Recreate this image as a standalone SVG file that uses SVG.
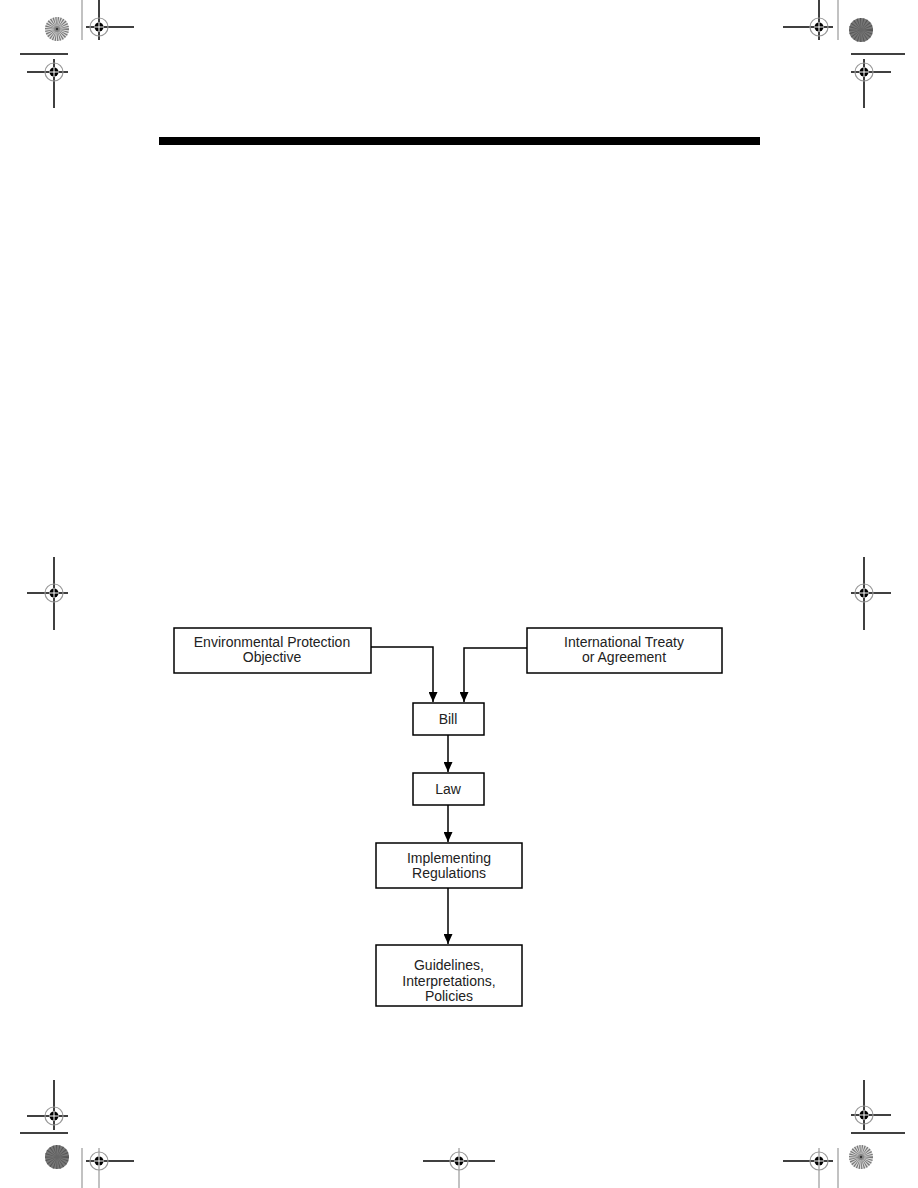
<svg xmlns="http://www.w3.org/2000/svg" width="918" height="1188" viewBox="0 0 918 1188">
<style>
.box{fill:#fff;stroke:#000;stroke-width:1.5}
.t{font-family:"Liberation Sans",Arial,sans-serif;font-size:14px;fill:#222;text-anchor:middle}
.con{fill:none;stroke:#000;stroke-width:1.5}
.k{stroke:#000;stroke-width:1.5}
.g{stroke:#999;stroke-width:1.2}
</style>
<defs>
<marker id="ah" viewBox="0 0 10 10" refX="10" refY="5" markerWidth="10" markerHeight="9" markerUnits="userSpaceOnUse" orient="auto" preserveAspectRatio="none">
<path d="M0,0 L10,5 L0,10 z" fill="#000"/>
</marker>
<g id="reg">
<circle r="9" fill="none" stroke="#999" stroke-width="1.2"/>
<circle r="4.5" fill="#000"/>
<line x1="-5" y1="0" x2="5" y2="0" stroke="#fff" stroke-width="1"/>
<line x1="0" y1="-5" x2="0" y2="5" stroke="#fff" stroke-width="1"/>
</g>
<g id="starL">
<circle r="12" fill="#ddd"/>
<circle r="6" fill="none" stroke="#777" stroke-width="12" stroke-dasharray="0.7 0.7"/>
<circle r="3" fill="#888"/>
<circle r="1.2" fill="#333"/>
</g>
<g id="starD">
<circle r="12" fill="#777"/>
<circle r="6" fill="none" stroke="#555" stroke-width="12" stroke-dasharray="0.6 1.2"/>
<circle r="2" fill="#666"/>
</g>
</defs>

<!-- printer marks -->
<g id="marks">
<!-- top left -->
<use href="#starL" x="57" y="29"/>
<line class="g" x1="82" y1="0" x2="82" y2="40"/>
<line class="k" x1="99" y1="0" x2="99" y2="40"/>
<line class="k" x1="86" y1="27" x2="134" y2="27"/>
<use href="#reg" x="99" y="27"/>
<line class="k" x1="20" y1="54" x2="68" y2="54"/>
<line class="k" x1="54" y1="59" x2="54" y2="108"/>
<line class="k" x1="27" y1="72" x2="68" y2="72"/>
<use href="#reg" x="54" y="72"/>
<!-- top right -->
<use href="#starD" x="861" y="30"/>
<line class="g" x1="838" y1="0" x2="838" y2="40"/>
<line class="k" x1="819" y1="0" x2="819" y2="40"/>
<line class="k" x1="783" y1="27" x2="833" y2="27"/>
<use href="#reg" x="819" y="27"/>
<line class="k" x1="851" y1="54" x2="905" y2="54"/>
<line class="k" x1="864" y1="59" x2="864" y2="108"/>
<line class="k" x1="851" y1="72" x2="891" y2="72"/>
<use href="#reg" x="864" y="72"/>
<!-- middle -->
<line class="k" x1="54" y1="557" x2="54" y2="630"/>
<line class="k" x1="27" y1="593" x2="68" y2="593"/>
<use href="#reg" x="54" y="593"/>
<line class="k" x1="864" y1="557" x2="864" y2="630"/>
<line class="k" x1="851" y1="593" x2="891" y2="593"/>
<use href="#reg" x="864" y="593"/>
<!-- bottom left -->
<line class="k" x1="54" y1="1080" x2="54" y2="1130"/>
<line class="k" x1="27" y1="1116" x2="68" y2="1116"/>
<use href="#reg" x="54" y="1116"/>
<line class="k" x1="20" y1="1133" x2="68" y2="1133"/>
<use href="#starD" x="57" y="1157"/>
<line class="g" x1="82" y1="1148" x2="82" y2="1188"/>
<line class="g" x1="99" y1="1148" x2="99" y2="1188"/>
<line class="k" x1="86" y1="1161" x2="134" y2="1161"/>
<use href="#reg" x="99" y="1161"/>
<!-- bottom center -->
<line class="g" x1="459" y1="1148" x2="459" y2="1188"/>
<line class="k" x1="423" y1="1161" x2="495" y2="1161"/>
<use href="#reg" x="459" y="1161"/>
<!-- bottom right -->
<line class="k" x1="864" y1="1080" x2="864" y2="1130"/>
<line class="k" x1="851" y1="1115" x2="891" y2="1115"/>
<use href="#reg" x="864" y="1115"/>
<line class="k" x1="851" y1="1133" x2="905" y2="1133"/>
<use href="#starL" x="861" y="1157"/>
<line class="g" x1="838" y1="1148" x2="838" y2="1188"/>
<line class="g" x1="819" y1="1148" x2="819" y2="1188"/>
<line class="k" x1="783" y1="1161" x2="833" y2="1161"/>
<use href="#reg" x="819" y="1161"/>
</g>

<!-- header rule -->
<rect x="159" y="137" width="601" height="8" fill="#000"/>

<!-- connectors -->
<g id="connectors">
<path class="con" d="M371,647 H433 V702" marker-end="url(#ah)"/>
<path class="con" d="M527,648 H464 V702" marker-end="url(#ah)"/>
<path class="con" d="M448,735 V772" marker-end="url(#ah)"/>
<path class="con" d="M448,805 V842" marker-end="url(#ah)"/>
<path class="con" d="M448,888 V944" marker-end="url(#ah)"/>
</g>

<g id="env">
<rect class="box" x="174" y="628" width="197" height="45"/>
<text class="t" x="272" y="647">Environmental Protection</text>
<text class="t" x="272" y="662">Objective</text>
</g>
<g id="treaty">
<rect class="box" x="527" y="628" width="195" height="45"/>
<text class="t" x="624" y="647">International Treaty</text>
<text class="t" x="624" y="662">or Agreement</text>
</g>
<g id="bill">
<rect class="box" x="413" y="703" width="71" height="32"/>
<text class="t" x="448" y="724">Bill</text>
</g>
<g id="law">
<rect class="box" x="413" y="773" width="71" height="32"/>
<text class="t" x="448" y="794">Law</text>
</g>
<g id="impl">
<rect class="box" x="376" y="843" width="146" height="45"/>
<text class="t" x="449" y="863">Implementing</text>
<text class="t" x="449" y="878">Regulations</text>
</g>
<g id="guide">
<rect class="box" x="376" y="945" width="146" height="61"/>
<text class="t" x="449" y="970">Guidelines,</text>
<text class="t" x="449" y="986">Interpretations,</text>
<text class="t" x="449" y="1001">Policies</text>
</g>
</svg>
